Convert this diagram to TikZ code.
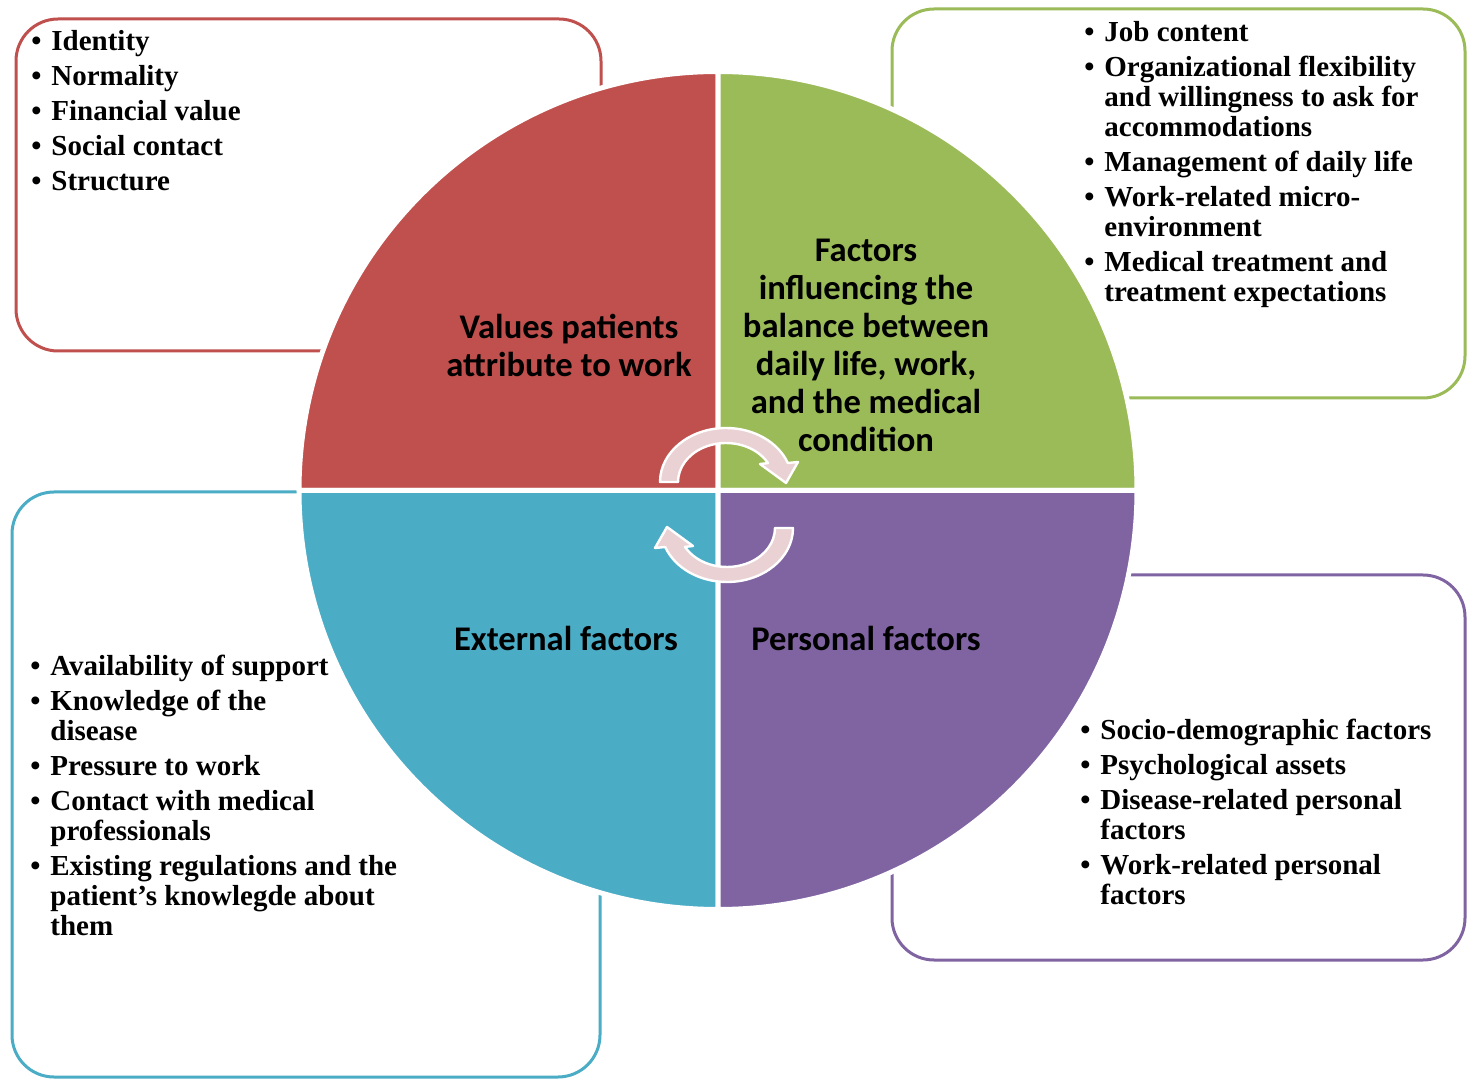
\documentclass[tikz,border=0pt]{standalone}
\usepackage{fontspec}
\setmainfont{Liberation Serif}
\newfontfamily\calib{Carlito}
\definecolor{qred}{RGB}{192,80,77}
\definecolor{qgreen}{RGB}{155,187,89}
\definecolor{qblue}{RGB}{75,172,198}
\definecolor{qpurple}{RGB}{128,100,162}
\definecolor{arrowpink}{RGB}{234,209,211}
\newcommand\bitem[1]{\makebox[10pt][l]{\textbullet}#1}
\newcommand\cont[1]{\hspace*{10pt}#1}
\newcommand\cycpath{(-66,0) arc[start angle=180, end angle=20.6, x radius=66, y radius=54] -- (72,20) -- (60,-1) -- (34,18) -- (42,18.9) arc[start angle=29, end angle=180, x radius=48, y radius=39] -- cycle}
\tikzset{
  qlabel/.style={font=\calib\bfseries\fontsize{17.3}{19}\selectfont, align=center, inner sep=0pt, text=black},
  listtxt/.style={font=\bfseries\fontsize{14.5}{15}\selectfont, align=left, inner sep=0pt, anchor=north west, text=black},
  infobox/.style={line width=1.5pt, rounded corners=21pt, fill=white},
  quad/.style={draw=white, line width=2.5pt, line join=round},
  cyc/.style={fill=arrowpink, draw=white, line width=1.2pt, line join=round},
}
\begin{document}
\begin{tikzpicture}[x=0.5pt, y=0.5pt]
\useasboundingbox (0,0) rectangle (1468,-1079);
\fill[white] (0,0) rectangle (1468,-1079);
% side boxes
\draw[infobox, draw=qred] (16,-19) rectangle (601,-351);
\draw[infobox, draw=qgreen] (892,-9) rectangle (1465,-398);
\draw[infobox, draw=qblue] (12,-492) rectangle (600,-1077);
\draw[infobox, draw=qpurple] (892,-575) rectangle (1465,-960);
% quadrants
\coordinate (C) at (718,-490.5);
\filldraw[quad, fill=qred] (C) -- ++(180:419) arc[start angle=180, end angle=90, radius=419] -- cycle;
\filldraw[quad, fill=qgreen] (C) -- ++(90:419) arc[start angle=90, end angle=0, radius=419] -- cycle;
\filldraw[quad, fill=qblue] (C) -- ++(180:419) arc[start angle=180, end angle=270, radius=419] -- cycle;
\filldraw[quad, fill=qpurple] (C) -- ++(270:419) arc[start angle=270, end angle=360, radius=419] -- cycle;
% cycle arrows
\filldraw[cyc, shift={(726,-482)}] \cycpath;
\filldraw[cyc, shift={(727,-528)}, rotate=180] \cycpath;
% quadrant labels
\node[qlabel] (lred) at (569,-345) {Values patients\\attribute to work};
\node[qlabel] (lgreen) at (866,-345) {Factors\\influencing the\\balance between\\daily life, work,\\and the medical\\condition};
\node[qlabel] (lblue) at (566,-638) {External factors};
\node[qlabel] (lpurple) at (866,-638) {Personal factors};
% lists
\node[listtxt] (tred) at (31,-30) {\bitem{Identity}\\[2.5pt]\bitem{Normality}\\[2.5pt]\bitem{Financial value}\\[2.5pt]\bitem{Social contact}\\[2.5pt]\bitem{Structure}};
\node[listtxt] (tgreen) at (1084,-21) {\bitem{Job content}\\[2.5pt]\bitem{Organizational flexibility}\\\cont{and willingness to ask for}\\\cont{accommodations}\\[2.5pt]\bitem{Management of daily life}\\[2.5pt]\bitem{Work-related micro-}\\\cont{environment}\\[2.5pt]\bitem{Medical treatment and}\\\cont{treatment expectations}};
\node[listtxt] (tblue) at (30,-655) {\bitem{Availability of support}\\[2.5pt]\bitem{Knowledge of the}\\\cont{disease}\\[2.5pt]\bitem{Pressure to work}\\[2.5pt]\bitem{Contact with medical}\\\cont{professionals}\\[2.5pt]\bitem{Existing regulations and the}\\\cont{patient’s knowlegde about}\\\cont{them}};
\node[listtxt] (tpurple) at (1080,-719) {\bitem{Socio-demographic factors}\\[2.5pt]\bitem{Psychological assets}\\[2.5pt]\bitem{Disease-related personal}\\\cont{factors}\\[2.5pt]\bitem{Work-related personal}\\\cont{factors}};
\end{tikzpicture}
\end{document}
